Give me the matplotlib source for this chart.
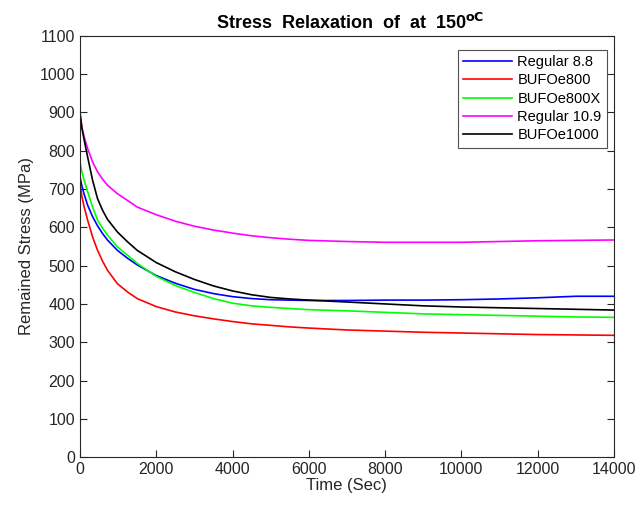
import matplotlib
matplotlib.use('Agg')
import matplotlib.pyplot as plt

plt.rcParams['font.family'] = ['Liberation Sans', 'DejaVu Sans']

# time axis (s) and remained stress (MPa)
time_s = [0, 50, 110, 200, 330, 460, 590, 720, 980, 1250, 1500, 2000, 2500,
          3000, 3500, 4000, 4500, 5000, 5500, 6000, 7000, 8000, 9000, 10000,
          11000, 12000, 13000, 14000]

regular_88 = [732, 708, 686, 658, 628, 604, 584, 567, 540, 519, 502, 474, 454,
              438, 427, 419, 414, 411, 410, 409, 409, 410, 410, 411, 413, 416,
              420, 420]
bufoe800 = [715, 680, 653, 619, 575, 540, 512, 488, 453, 431, 414, 393, 379,
            369, 361, 354, 348, 344, 340, 337, 332, 329, 326, 324, 322, 320,
            319, 318]
bufoe800x = [771, 745, 723, 693, 653, 619, 598, 580, 549, 527, 506, 472, 448,
             430, 414, 402, 395, 391, 388, 385, 382, 378, 374, 372, 370, 368,
             366, 365]
regular_109 = [895, 860, 836, 806, 771, 745, 726, 710, 688, 670, 653, 633, 616,
               603, 593, 585, 578, 573, 569, 566, 563, 561, 561, 561, 563, 565,
               566, 567]
bufoe1000 = [900, 860, 828, 784, 723, 675, 645, 621, 588, 562, 540, 508, 484,
             464, 447, 434, 424, 417, 413, 410, 405, 400, 395, 392, 390, 388,
             386, 384]

series = [
    ('Regular 8.8', regular_88, '#0000ff'),
    ('BUFOe800', bufoe800, '#ff0000'),
    ('BUFOe800X', bufoe800x, '#00ff00'),
    ('Regular 10.9', regular_109, '#ff00ff'),
    ('BUFOe1000', bufoe1000, '#000000'),
]

fig = plt.figure(figsize=(6.4, 5.13), dpi=100)
ax = fig.add_axes([0.125, 0.109, 0.834, 0.821])

for name, vals, col in series:
    ax.plot(time_s, vals, color=col, lw=1.2, label=name)

ax.set_xlim(0, 14000)
ax.set_ylim(0, 1100)
ax.set_xticks(range(0, 14001, 2000))
ax.set_yticks(range(0, 1101, 100))
ax.tick_params(direction='in', length=5, width=0.8, labelsize=11.5,
               colors='#262626', top=False, right=True)
for sp in ax.spines.values():
    sp.set_color('#262626')
    sp.set_linewidth(0.8)

ax.set_xlabel('Time (Sec)', fontsize=12, color='#262626', labelpad=1)
ax.set_ylabel('Remained Stress (MPa)', fontsize=12, color='#262626', labelpad=4)
ax.set_title(r'Stress  Relaxation  of  at  150$^{\mathbf{oC}}$',
             fontsize=13, fontweight='bold', pad=5, x=0.507)

leg = ax.legend(loc='upper right', bbox_to_anchor=(0.987, 0.967),
                borderaxespad=0, fontsize=10.5, frameon=True, fancybox=False,
                handlelength=3.35, handletextpad=0.4, labelspacing=0.3,
                borderpad=0.35)
leg.get_frame().set_edgecolor('#262626')
leg.get_frame().set_linewidth(0.8)

fig.savefig('out.png', dpi=100)
